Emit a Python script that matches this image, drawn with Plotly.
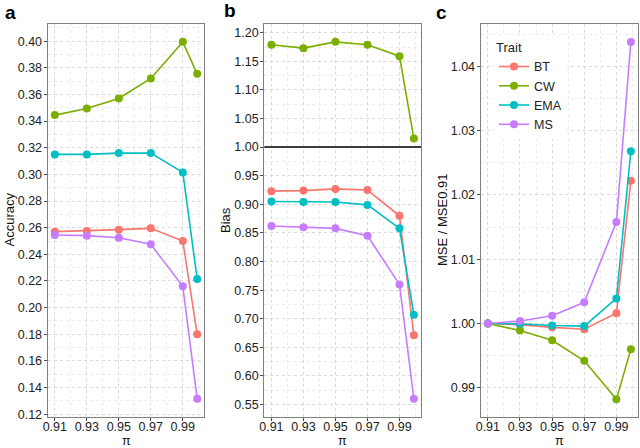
import plotly.graph_objects as go

pi_vals = [0.91, 0.93, 0.95, 0.97, 0.99, 0.999]
traits = ["BT", "CW", "EMA", "MS"]
colors = {"BT": "#F8766D", "CW": "#7CAE00", "EMA": "#00BFC4", "MS": "#C77CFF"}

accuracy = {
    "BT": [0.257, 0.2575, 0.2585, 0.2595, 0.250, 0.180],
    "CW": [0.3445, 0.3495, 0.357, 0.372, 0.3995, 0.3755],
    "EMA": [0.315, 0.315, 0.316, 0.316, 0.3015, 0.2215],
    "MS": [0.2545, 0.254, 0.2525, 0.2475, 0.216, 0.1315],
}
bias = {
    "BT": [0.923, 0.924, 0.927, 0.925, 0.880, 0.671],
    "CW": [1.179, 1.173, 1.184, 1.179, 1.159, 1.015],
    "EMA": [0.905, 0.904, 0.904, 0.899, 0.858, 0.707],
    "MS": [0.862, 0.860, 0.858, 0.845, 0.760, 0.560],
}
mse_ratio = {
    "BT": [1.0, 0.9998, 0.9994, 0.9991, 1.0016, 1.0222],
    "CW": [1.0, 0.9989, 0.9974, 0.9942, 0.9882, 0.9960],
    "EMA": [1.0, 0.99995, 0.9997, 0.9996, 1.0039, 1.0268],
    "MS": [1.0, 1.0004, 1.0012, 1.0033, 1.0158, 1.0438],
}

W, H = 640, 448
FONT = "Liberation Sans, Arial, sans-serif"

def fx(v):
    return v / W

def fy(v):
    return 1 - v / H

fig = go.Figure()

panel_px = [(47.7, 204.3), (264.3, 421), (480.7, 638)]
panels = [
    ("x", "y", accuracy),
    ("x2", "y2", bias),
    ("x3", "y3", mse_ratio),
]

for i, (xa, ya, data) in enumerate(panels):
    for t in traits:
        fig.add_trace(go.Scatter(
            x=pi_vals, y=data[t], mode="lines+markers", name=t,
            xaxis=xa, yaxis=ya, legendgroup=t, showlegend=(i == 2),
            line=dict(color=colors[t], width=1.6),
            marker=dict(color=colors[t], size=8),
        ))

TOP, BOT = 24, 416.7
ydom = [fy(BOT), fy(TOP)]
common_axis = dict(
    showline=True, mirror=True, linecolor="#7f7f7f", linewidth=1.3,
    ticks="outside", ticklen=3, tickcolor="#4d4d4d", tickwidth=1,
    showgrid=True, gridcolor="#d9d9d9", griddash="dot", gridwidth=1,
    zeroline=False, tickfont=dict(family=FONT, size=12.5, color="#222"),
    tickformat=".2f", tickmode="linear", automargin=False,
)

def xaxis(i, anchor):
    a, b = panel_px[i]
    d = dict(common_axis)
    d.update(domain=[fx(a), fx(b)], anchor=anchor, range=[0.90555, 1.00345], tick0=0.91, dtick=0.02,
             ticklabelstandoff=-5,
             minor=dict(dtick=0.01, showgrid=True, gridcolor="#ebebeb", griddash="dot"))
    return d

def yaxis(anchor, rng, tick0, dtick):
    d = dict(common_axis)
    d.update(domain=ydom, anchor=anchor, range=rng, tick0=tick0, dtick=dtick,
             ticklabelstandoff=-1,
             minor=dict(dtick=dtick / 2, showgrid=True, gridcolor="#ebebeb", griddash="dot"))
    return d

def ann(text, x, y, size=13, bold=False, angle=0, xanchor="center", yanchor="middle"):
    return dict(text=(f"<b>{text}</b>" if bold else text), x=fx(x), y=fy(y), xref="paper", yref="paper",
                xanchor=xanchor, yanchor=yanchor, showarrow=False, textangle=angle,
                font=dict(family=FONT, size=size, color="black" if bold else "#111"))

annotations = [
    ann("a", 2.5, 12, size=19, bold=True, xanchor="left"),
    ann("b", 221.5, 11, size=19, bold=True, xanchor="left"),
    ann("c", 433.5, 12, size=19, bold=True, xanchor="left"),
    ann("Accuracy", 8.5, 220, angle=-90),
    ann("Bias", 225, 220, angle=-90),
    ann("MSE / MSE0.91", 442, 220, angle=-90),
]
for a, b in panel_px:
    annotations.append(ann("π", (a + b) / 2, 440.5, size=12.5))

fig.update_layout(
    width=W, height=H, margin=dict(l=0, r=0, t=0, b=0),
    paper_bgcolor="white", plot_bgcolor="white",
    font=dict(family=FONT, color="#222"),
    xaxis=xaxis(0, "y"),
    xaxis2=xaxis(1, "y2"),
    xaxis3=xaxis(2, "y3"),
    yaxis=yaxis("x", [0.1181, 0.4129], 0.12, 0.02),
    yaxis2=yaxis("x2", [0.5288, 1.2152], 0.55, 0.05),
    yaxis3=yaxis("x3", [0.9855, 1.0466], 0.99, 0.01),
    legend=dict(
        x=fx(494), y=fy(35), xanchor="left", yanchor="top",
        title=dict(text="Trait", font=dict(family=FONT, size=13, color="#222")),
        font=dict(family=FONT, size=12.5, color="#222"),
        bgcolor="rgba(255,255,255,0.9)", tracegroupgap=0, itemwidth=30,
    ),
    shapes=[dict(type="line", xref="x2 domain", yref="y2", x0=0, x1=1, y0=1.0, y1=1.0,
                 line=dict(color="black", width=1.5))],
    annotations=annotations,
)

fig.write_html("out.html", config={"displayModeBar": False},
               post_script="document.body.style.margin='0';")
